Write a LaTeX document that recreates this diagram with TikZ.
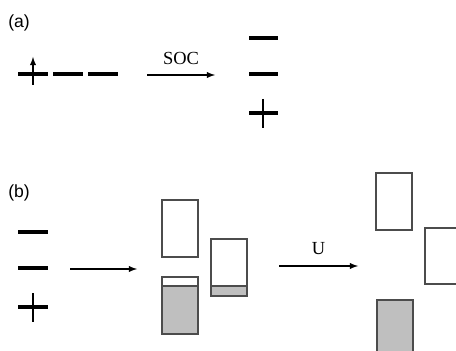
\documentclass[tikz,border=0pt]{standalone}
\usepackage{fontspec}
\setmainfont{Liberation Serif}
\newfontfamily\labelfont{Liberation Sans}
\usetikzlibrary{positioning}

\tikzset{
	tag/.style={anchor=north west, inner sep=0pt, font=\labelfont\fontsize{10}{11}\selectfont},
	levelbar/.style={fill=black, minimum width=0.6cm, minimum height=0.066cm, inner sep=0pt},
	band/.style={draw=black!70, line width=0.6pt},
	occupied/.style={fill=black!25, draw=black!70, line width=0.6pt},
	move/.style={-latex, line width=0.6pt}
}

\begin{document}
\begin{tikzpicture}[x=0.02cm, y=-0.02cm]
	\useasboundingbox (0,0) rectangle (456,351);
	\clip (0,0) rectangle (456,351);

	% (a) atomic levels, spin-orbit splitting
	\node[tag] (tagA) at (8,14) {(a)};
	\foreach \x/\n in {33/1,68/2,103/3}
	{
		\node[levelbar] (a\n) at (\x,74) {};
	}
	\draw[-latex, line width=0.6pt] (33,85) -- (33,57);
	\coordinate (socL) at (147,75);
	\coordinate (socR) at (215,75);
	\draw[move] (socL) -- node[above=2pt, font=\fontsize{10.5}{12}\selectfont] (soc) {SOC} (socR);
	\foreach \y/\n in {38/1,74/2,113/3}
	{
		\node[levelbar, minimum width=0.58cm] (s\n) at (263.5,\y) {};
	}
	\draw[line width=0.6pt] (263,99) -- (263,128);

	% (b) bands and Hubbard U
	\node[tag] (tagB) at (8,184) {(b)};
	\foreach \y/\n in {232/1,268/2,307/3}
	{
		\node[levelbar] (b\n) at (33,\y) {};
	}
	\draw[line width=0.6pt] (33,293) -- (33,322);
	\coordinate (bandL) at (70,269);
	\coordinate (bandR) at (137,269);
	\draw[move] (bandL) -- (bandR);

	\draw[band] (162,200) rectangle (198,257);
	\draw[band] (162,277) rectangle (198,334);
	\filldraw[occupied] (162,286) rectangle (198,334);
	\draw[band] (211,239) rectangle (247,296);
	\filldraw[occupied] (211,286) rectangle (247,296);

	\coordinate (uL) at (279,266);
	\coordinate (uR) at (358,266);
	\draw[move] (uL) -- node[above=3pt, font=\fontsize{10.5}{12}\selectfont] (hub) {U} (uR);

	\draw[band] (376,173) rectangle (412,230);
	\draw[band] (425,228) rectangle (470,284);
	\filldraw[occupied] (377,300) rectangle (413,370);
\end{tikzpicture}
\end{document}
